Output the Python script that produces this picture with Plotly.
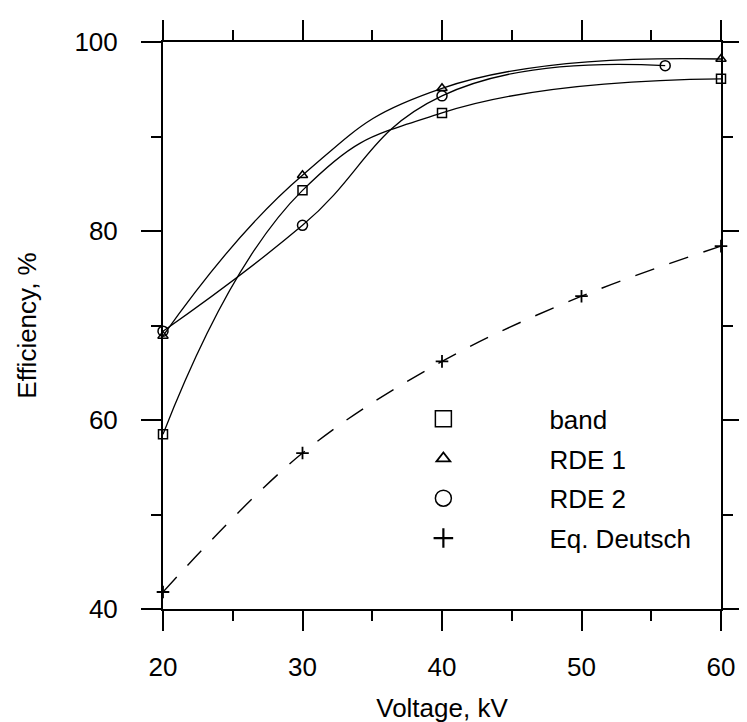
import plotly.graph_objects as go

# ---- data ----
voltage = [20, 30, 40, 60]
band = [58.5, 84.3, 92.5, 96.1]
rde1 = [68.9, 85.9, 95.1, 98.2]
voltage_rde2 = [20, 30, 40, 56]
rde2 = [69.4, 80.6, 94.3, 97.5]
voltage_deutsch = [20, 30, 40, 50, 60]
deutsch = [41.8, 56.5, 66.2, 73.1, 78.4]

x_ticks = [20, 30, 40, 50, 60]
y_ticks = [40, 60, 80, 100]

FONT = "Arial, Liberation Sans, sans-serif"
BLACK = "#000000"

fig = go.Figure()

series = [
    ("band", voltage, band, "square-open", 9),
    ("RDE 1", voltage, rde1, "triangle-up-open", 9),
    ("RDE 2", voltage_rde2, rde2, "circle-open", 10),
]

# smooth curves
for name, xs, ys, sym, sz in series:
    fig.add_trace(go.Scatter(x=xs, y=ys, mode="lines", showlegend=False,
                             line=dict(color=BLACK, width=1.3, shape="spline", smoothing=1.3),
                             hoverinfo="skip"))
fig.add_trace(go.Scatter(x=voltage_deutsch, y=deutsch, mode="lines", showlegend=False,
                         line=dict(color=BLACK, width=1.4, shape="spline", smoothing=1.0,
                                   dash="20px,16px"),
                         hoverinfo="skip"))

# data markers
for name, xs, ys, sym, sz in series:
    fig.add_trace(go.Scatter(x=xs, y=ys, mode="markers", showlegend=False, cliponaxis=False,
                             marker=dict(symbol=sym, size=sz, color=BLACK,
                                         line=dict(color=BLACK, width=1.5)),
                             name=name))
fig.add_trace(go.Scatter(x=voltage_deutsch, y=deutsch, mode="markers", showlegend=False,
                         cliponaxis=False,
                         marker=dict(symbol="cross-thin-open", size=9, color=BLACK,
                                     line=dict(color=BLACK, width=1.8)),
                         name="Eq. Deutsch"))

# legend entries (symbols only)
legend_items = [("band", "square-open", 16, 1.5), ("RDE 1", "triangle-up-open", 12, 1.8),
                ("RDE 2", "circle-open", 16, 1.5), ("Eq. Deutsch", "cross-thin-open", 14, 2.2)]
for i, (name, sym, sz, lw) in enumerate(legend_items):
    fig.add_trace(go.Scatter(x=[None], y=[None], mode="markers", name=name,
                             legendgroup=f"g{i}",
                             marker=dict(symbol=sym, size=sz, color=BLACK,
                                         line=dict(color=BLACK, width=lw))))

axis_common = dict(
    showline=True, linecolor=BLACK, linewidth=2, mirror="ticks",
    ticks="outside", ticklen=20, tickwidth=2, tickcolor=BLACK,
    showgrid=False, zeroline=False,
    tickfont=dict(family=FONT, size=26, color=BLACK),
    title_font=dict(family=FONT, size=26, color=BLACK),
)

fig.update_layout(
    width=747, height=722,
    margin=dict(l=155, r=16, t=28, b=118),
    paper_bgcolor="white", plot_bgcolor="white",
    font=dict(family=FONT, size=26, color=BLACK),
    xaxis=dict(range=[20, 60], tickvals=x_ticks, ticklabelstandoff=14,
               minor=dict(dtick=5, tick0=20, ticks="outside", ticklen=10, tickwidth=2,
                          tickcolor=BLACK, showgrid=False),
               title=dict(text="Voltage, kV", standoff=18), **axis_common),
    yaxis=dict(range=[40, 100], tickvals=y_ticks, ticklabelstandoff=18,
               minor=dict(dtick=10, tick0=40, ticks="outside", ticklen=10, tickwidth=2,
                          tickcolor=BLACK, showgrid=False),
               title=dict(text="Efficiency, %", standoff=30), **axis_common),
    legend=dict(x=0.3125, y=0.377, xanchor="left", yanchor="top",
                bgcolor="rgba(0,0,0,0)", itemwidth=202, tracegroupgap=3,
                font=dict(family=FONT, size=26, color=BLACK)),
    showlegend=True,
)

fig.write_html("out.html")
